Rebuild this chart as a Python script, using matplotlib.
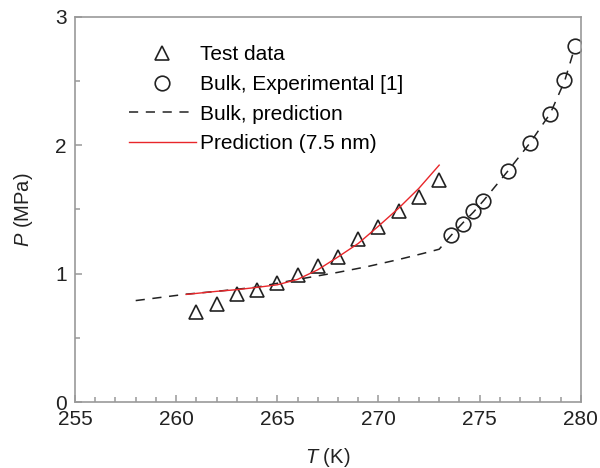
import matplotlib
matplotlib.use('Agg')
import matplotlib.pyplot as plt
from matplotlib.ticker import MultipleLocator

plt.rcParams['font.family'] = ['Liberation Sans', 'DejaVu Sans']
plt.rcParams['mathtext.fontset'] = 'custom'
plt.rcParams['mathtext.it'] = 'Liberation Sans:italic'
plt.rcParams['mathtext.rm'] = 'Liberation Sans'

# test data (triangles)
test_T = [261, 262, 263, 264, 265, 266, 267, 268, 269, 270, 271, 272, 273]
test_P = [0.70, 0.765, 0.838, 0.872, 0.93, 0.986, 1.058, 1.131, 1.27, 1.364, 1.489, 1.598, 1.728]

# bulk experimental (circles)
exp_T = [273.58, 274.19, 274.68, 275.17, 276.38, 277.48, 278.50, 279.18, 279.69]
exp_P = [1.30, 1.39, 1.489, 1.564, 1.80, 2.021, 2.247, 2.511, 2.773]

# bulk prediction (dashed)
bulk_T = [258.0, 260.5, 262.0, 264.0, 266.0, 268.0, 269.4, 271.0, 272.2, 273.0,
          273.6, 274.2, 274.7, 275.2, 276.4, 277.5, 278.5, 279.2, 279.7]
bulk_P = [0.79, 0.84, 0.862, 0.895, 0.955, 1.01, 1.053, 1.11, 1.157, 1.19,
          1.30, 1.40, 1.48, 1.57, 1.80, 2.02, 2.25, 2.50, 2.76]

# prediction for 7.5 nm pores (red)
pred_T = [260.5, 262.0, 263.0, 264.0, 265.0, 266.0, 267.0, 268.0, 269.0, 270.0, 271.0, 272.0, 273.0]
pred_P = [0.838, 0.862, 0.875, 0.893, 0.913, 0.955, 1.03, 1.13, 1.235, 1.37, 1.51, 1.665, 1.845]

fig = plt.figure(figsize=(6, 4.68), dpi=100)
ax = fig.add_axes([0.125, 0.141, 0.843, 0.823])

ax.plot(test_T, test_P, linestyle='none', marker='^', markersize=10,
        markerfacecolor='none', markeredgecolor='#222222', markeredgewidth=1.2, label='Test data')
ax.plot(exp_T, exp_P, linestyle='none', marker='o', markersize=10.5,
        markerfacecolor='none', markeredgecolor='#222222', markeredgewidth=1.2,
        label='Bulk, Experimental [1]')
ax.plot(bulk_T, bulk_P, color='#222222', linestyle=(0, (6, 5)), linewidth=1.1,
        label='Bulk, prediction')
ax.plot(pred_T, pred_P, color='#e8262a', linewidth=1.0, label='Prediction (7.5 nm)')

ax.set_xlim(255, 280)
ax.set_ylim(0, 3)
ax.xaxis.set_major_locator(MultipleLocator(5))
ax.xaxis.set_minor_locator(MultipleLocator(1))
ax.yaxis.set_major_locator(MultipleLocator(1))
ax.yaxis.set_minor_locator(MultipleLocator(0.5))

for s in ax.spines.values():
    s.set_color('#999999')
    s.set_linewidth(1.2)
ax.tick_params(which='both', direction='in', color='#999999', width=1.1,
               labelsize=15, labelcolor='#222222', top=False, right=False)
ax.tick_params(which='major', length=5, pad=6)
ax.tick_params(which='minor', length=3.4)

ax.set_xlabel(r'$\it{T}$ (K)', fontsize=14.5, color='#222222', labelpad=12)
ax.set_ylabel(r'$\it{P}$ (MPa)', fontsize=14.5, color='#222222', labelpad=14)

ax.legend(loc='upper left', bbox_to_anchor=(0.107, 0.927), frameon=False, fontsize=15,
          handlelength=3.2, handletextpad=0.22, labelspacing=0.52, borderaxespad=0,
          borderpad=0)

fig.savefig('out.png', dpi=100)
